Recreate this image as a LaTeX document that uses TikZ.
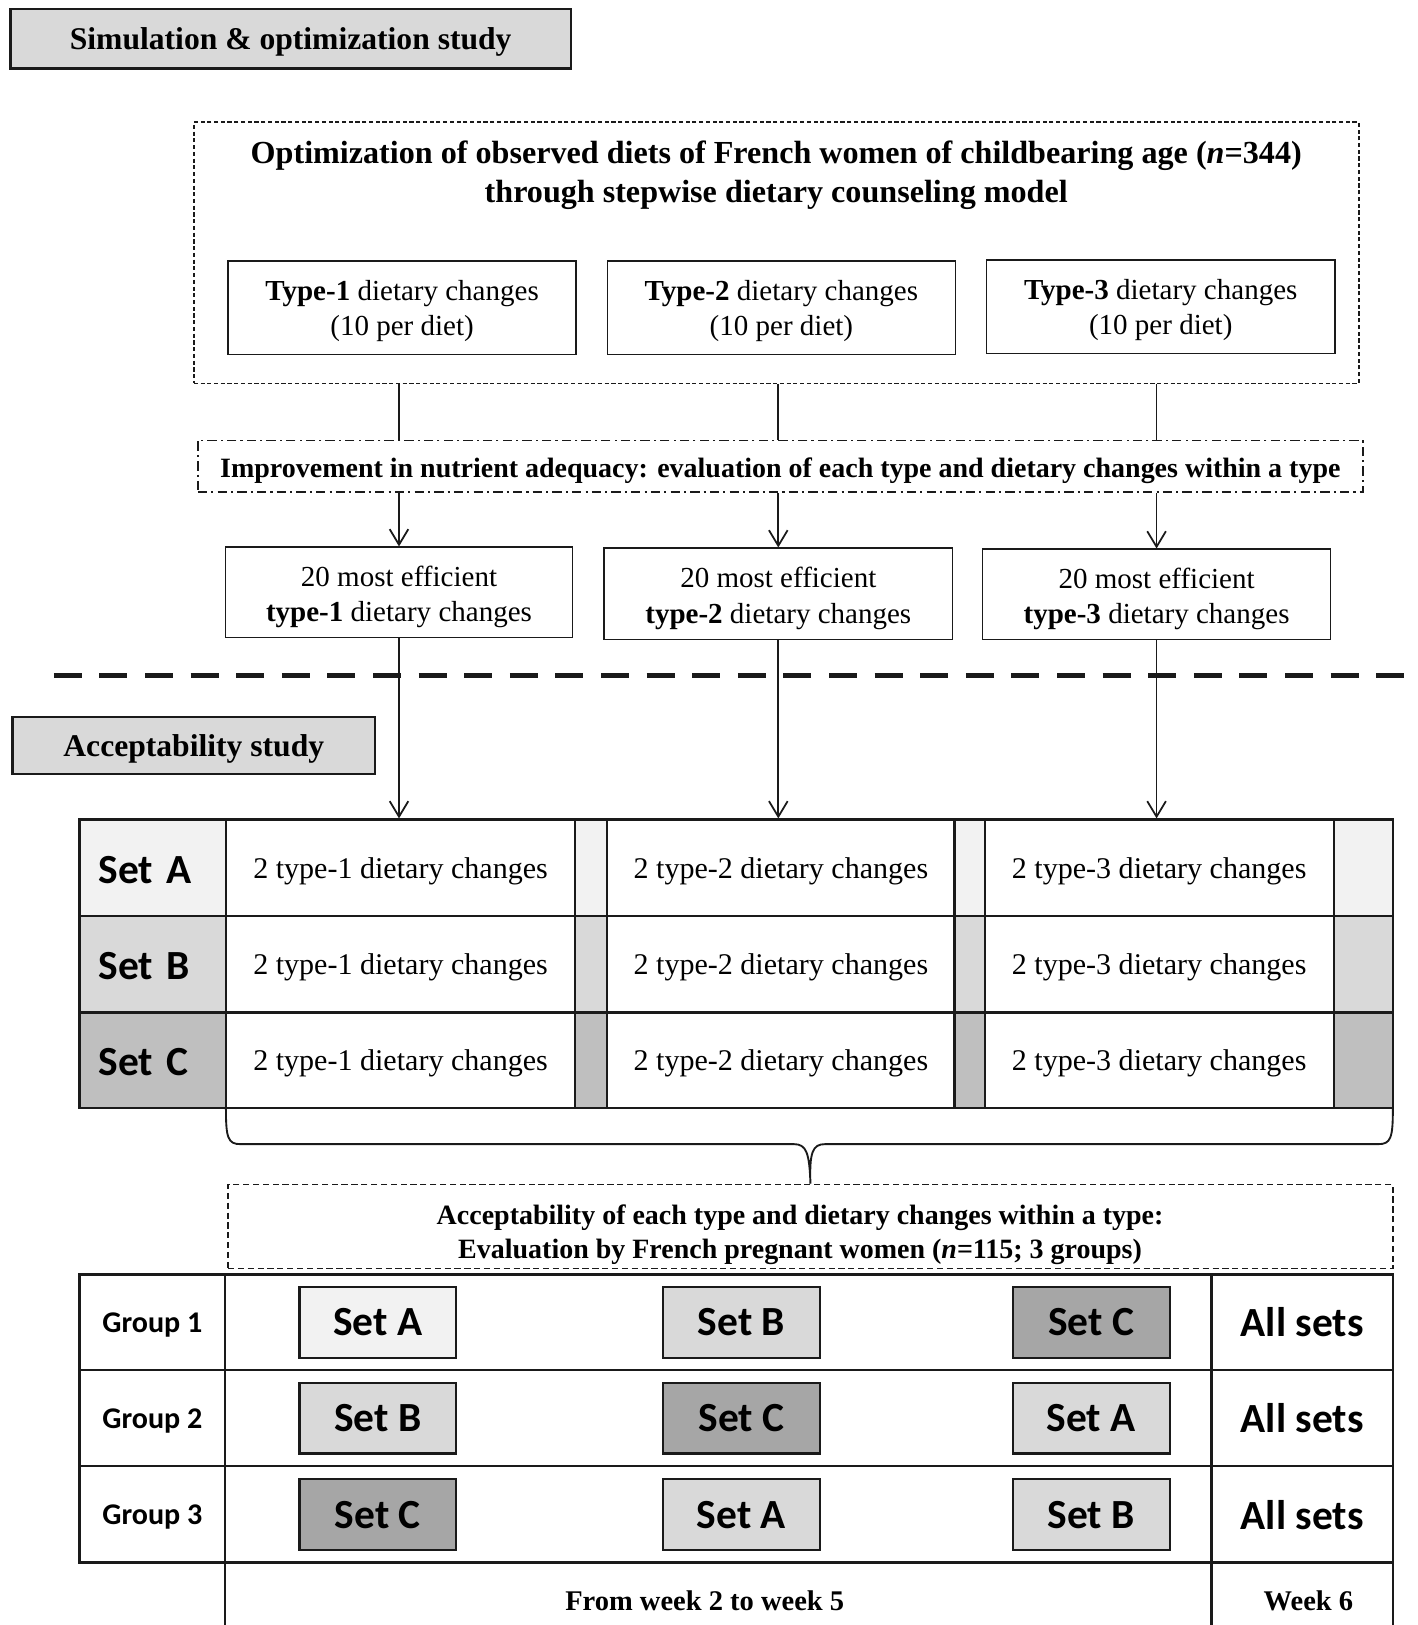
\documentclass[tikz,border=0pt]{standalone}
\usepackage{fontspec}
\setmainfont{Liberation Serif}
\newfontfamily\calib{Carlito}
\usetikzlibrary{arrows.meta}
\definecolor{gA}{HTML}{F2F2F2}
\definecolor{gB}{HTML}{D9D9D9}
\definecolor{gC}{HTML}{BFBFBF}
\definecolor{gCC}{HTML}{A6A6A6}
\definecolor{gT}{HTML}{D9D9D9}
\definecolor{ln}{HTML}{1A1A1A}
\begin{document}
\begin{tikzpicture}[x=1pt,y=-1pt,
  titlebox/.style={draw=ln, line width=2.2pt, fill=gT, inner sep=0pt, text height=27.5pt, font=\fontsize{30.5}{36}\selectfont\bfseries},
  typebox/.style={draw=ln, line width=1.5pt, inner sep=0pt},
  typetext/.style={inner sep=0pt, align=center, font=\fontsize{28}{34}\selectfont},
  thinline/.style={draw=ln, line width=1.7pt},
  arr/.style={draw=ln, line width=1.7pt, -{Straight Barb[length=15pt,width=18pt,line width=1.7pt]}},
  cell/.style={draw=ln, line width=2pt, inner sep=0pt, minimum height=93pt, text height=26pt, font=\fontsize{29}{34}\selectfont},
  gcell/.style={draw=ln, line width=2pt, inner sep=0pt, minimum height=93pt},
  setfont/.style={font=\calib\bfseries\fontsize{40}{48}\selectfont},
  setbox/.style={draw=ln, line width=2pt, inner sep=0pt, minimum width=151pt, minimum height=68pt, setfont},
  frame/.style={draw=ln, line width=2.6pt, inner sep=0pt}
]
\useasboundingbox (0,0) rectangle (1368,1568);

% ---------- Simulation part ----------
\node[titlebox, minimum width=541pt, minimum height=57pt] (title1) at (280.5,37.5) {Simulation \& optimization study};

\node[draw=ln, line width=1.6pt, dash pattern=on 4pt off 2.5pt, minimum width=1124pt, minimum height=252pt, inner sep=0pt] (outer) at (749,244) {};
\node[align=center, inner sep=0pt, font=\fontsize{31}{37}\selectfont\bfseries] (heading) at (749,169) {Optimization of observed diets of French women of childbearing age (\textit{n}=344)\\through stepwise dietary counseling model};

\node[typebox, minimum width=336pt, minimum height=90pt] (t1) at (388,297) {};
\node[typebox, minimum width=336pt, minimum height=90pt] (t2) at (754,297) {};
\node[typebox, minimum width=336pt, minimum height=90pt] (t3) at (1120,296) {};
\node[typetext] (t1txt) at (388,300) {\textbf{Type-1} dietary changes\\(10 per diet)};
\node[typetext] (t2txt) at (754,300) {\textbf{Type-2} dietary changes\\(10 per diet)};
\node[typetext] (t3txt) at (1120,299) {\textbf{Type-3} dietary changes\\(10 per diet)};

\node[draw=ln, line width=1.6pt, dash pattern=on 9pt off 4pt on 2pt off 4pt, minimum width=1124pt, minimum height=50pt, inner sep=0pt, text height=26.5pt, font=\fontsize{27}{32}\selectfont\bfseries] (imp) at (753,450) {Improvement in nutrient adequacy: evaluation of each type and dietary changes within a type};

\node[typebox, minimum width=335pt, minimum height=87pt] (e1) at (385,571.5) {};
\node[typebox, minimum width=336pt, minimum height=88pt] (e2) at (751,573) {};
\node[typebox, minimum width=336pt, minimum height=87pt] (e3) at (1116,573.5) {};
\node[typetext] (e1txt) at (385,576) {20 most efficient\\\textbf{type-1} dietary changes};
\node[typetext] (e2txt) at (751,577.5) {20 most efficient\\\textbf{type-2} dietary changes};
\node[typetext] (e3txt) at (1116,578) {20 most efficient\\\textbf{type-3} dietary changes};

% big separator
\draw[draw=ln, line width=5pt, dash pattern=on 27pt off 17pt] (52,652) -- (1368,652);

% ---------- Acceptability part ----------
\node[titlebox, minimum width=350pt, minimum height=55pt] (title2) at (187,719.5) {Acceptability study};

% sets table
\foreach \r/\col/\y/\h in {A/gA/837.5/93, B/gB/930.5/93, C/gC/1023/92}{
  \node[cell, minimum height=\h pt, fill=\col, minimum width=141pt, text width=105pt, text height=30pt, align=left, setfont] (lab\r) at (147.5,\y) {Set \r};
  \node[cell, minimum height=\h pt, minimum width=337pt] (ca\r) at (386.5,\y) {2 type-1 dietary changes};
  \node[cell, minimum height=\h pt, fill=\col, minimum width=31pt] (sa\r) at (570.5,\y) {};
  \node[cell, minimum height=\h pt, minimum width=335pt] (cb\r) at (753.5,\y) {2 type-2 dietary changes};
  \node[cell, minimum height=\h pt, fill=\col, minimum width=29pt] (sb\r) at (935.5,\y) {};
  \node[cell, minimum height=\h pt, minimum width=337pt] (cc\r) at (1118.5,\y) {2 type-3 dietary changes};
  \node[cell, minimum height=\h pt, fill=\col, minimum width=57pt] (sc\r) at (1315.5,\y) {};
}
\node[frame, minimum width=1267pt, minimum height=278pt] (sets) at (710.5,930) {};

% connectors
\foreach \e in {e1,e2,e3}{
  \draw[thinline] (\e |- outer.south) -- (\e |- imp.north);
  \draw[arr] (\e |- imp.south) -- (\e.north);
  \draw[arr] (\e.south) -- (\e |- sets.north);
}

% brace
\node[inner sep=0pt, minimum width=1124pt, minimum height=81pt, draw=ln, line width=1.6pt, dash pattern=on 6pt off 3.5pt] (acc) at (782,1183.5) {};
\node[align=center, inner sep=0pt, font=\fontsize{27}{33}\selectfont\bfseries] (acctext) at (772,1191.5) {Acceptability of each type and dietary changes within a type:\\Evaluation by French pregnant women (\textit{n}=115; 3 groups)};
\coordinate (bl) at (218,1070);
\coordinate (br) at (1344,1070);
\coordinate (tip) at (acc.north);
\draw[draw=ln, line width=1.8pt] (bl) .. controls (218,1098) and (220,1104) .. (232,1104) -- (766,1104) .. controls (778,1104) and (781,1112) .. (tip) .. controls (781,1112) and (784,1104) .. (796,1104) -- (1330,1104) .. controls (1342,1104) and (1344,1098) .. (br);

% groups table
\foreach \g/\y/\h/\a/\ca/\b/\cb/\c/\cc in {1/1276/92/A/gA/B/gB/C/gCC, 2/1368.5/93/B/gB/C/gCC/A/gB, 3/1461.5/93/C/gCC/A/gB/B/gB}{
  \node[gcell, minimum height=\h pt, minimum width=140pt, text height=23.5pt, font=\calib\bfseries\fontsize{29}{34}\selectfont] (gl\g) at (147,\y) {Group \g};
  \node[gcell, minimum height=\h pt, minimum width=952pt] (gm\g) at (693,\y) {};
  \node[gcell, minimum height=\h pt, minimum width=175pt, setfont] (ga\g) at (1256.5,\y) {All sets};
  \node[setbox, fill=\ca] (gx\g) at (364.5,\y) {Set \a};
  \node[setbox, fill=\cb] (gy\g) at (715.5,\y) {Set \b};
  \node[setbox, fill=\cc] (gz\g) at (1053,\y) {Set \c};
}
\node[frame, minimum width=1267pt, minimum height=278pt] (groups) at (710.5,1369) {};

% bottom row
\draw[draw=ln, line width=2pt] (217,1508) -- (217,1568);
\draw[draw=ln, line width=2pt] (1169,1508) -- (1169,1568);
\draw[draw=ln, line width=2.6pt] (1344,1508) -- (1344,1568);
\node[inner sep=0pt, font=\fontsize{27.5}{33}\selectfont\bfseries] (weeks) at (680,1545) {From week 2 to week 5};
\node[inner sep=0pt, font=\fontsize{27.5}{33}\selectfont\bfseries] (week6) at (1262.5,1545) {Week 6};
\end{tikzpicture}
\end{document}
